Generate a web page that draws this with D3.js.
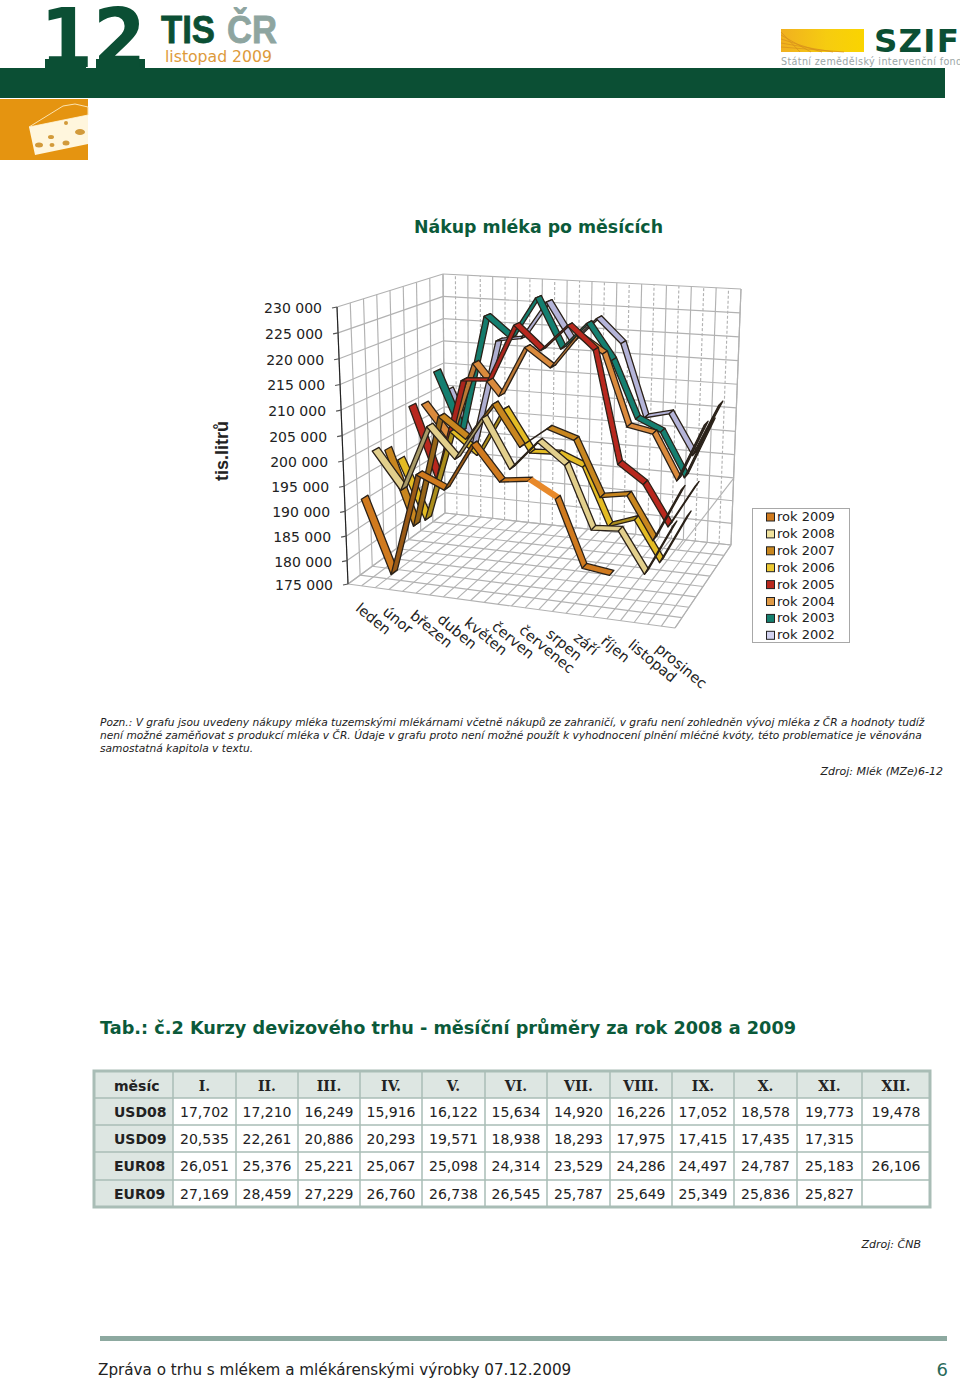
<!DOCTYPE html>
<html lang="cs"><head><meta charset="utf-8"><title>Nákup mléka po měsících</title>
<script src="https://cdn.jsdelivr.net/npm/d3@7/dist/d3.min.js"></script>
<style>html,body{margin:0;padding:0;background:#fff}svg{display:block}text{font-family:"DejaVu Sans",sans-serif}</style>
</head><body><div id="c"></div>
<script>
const months=["leden","únor","březen","duben","květen","červen","červenec","srpen","září","říjen","listopad","prosinec"];
const yTicks=[175000,180000,185000,190000,195000,200000,205000,210000,215000,220000,225000,230000];
const seriesNames=["rok 2009","rok 2008","rok 2007","rok 2006","rok 2005","rok 2004","rok 2003","rok 2002"];
const seriesColors=["#d07a1e","#e2cf8c","#c8861e","#e3bb24","#b8281e","#da8a3c","#157f70","#b4b4d8"];
const swatchColors=["#d07a1e","#f0e29e","#c8861e","#ecc832","#b8281e","#e09a46","#15806f","#d2d2f0"];
const rok2009=[192400,177800,198400,196000,205300,198700,199400,196500,183900,183200];
const rok2008=[200600,193250,206500,200600,209100,199700,205500,201500,189600,190000,182200,192200];
const rok2007=[199400,184300,207200,203200,210600,202600,206700,205000,194300,195200,187000,197400];
const rok2006=[195900,183800,202800,198500,208300,200000,200300,198200,186800,188700,180700,190700];
const rok2005=[205700,190800,212000,212400,224200,219400,224800,220200,197700,194100,186100,194900];
const rok2004=[204800,197800,214400,207900,218500,214700,221700,218300,203800,202800,193700,205500];
const rok2003=[210500,197800,223300,218900,227800,217400,223100,215700,203900,201600,192600,204600];
const rok2002=[205100,192800,216800,217700,225900,217500,223000,218000,202600,203900,195500,206600];
const seriesValues=[rok2009,rok2008,rok2007,rok2006,rok2005,rok2004,rok2003,rok2002];
const darkenRising=[.85,.85,.8,.8,.2,.4,.1,.1];
const tableHead=["měsíc","I.","II.","III.","IV.","V.","VI.","VII.","VIII.","IX.","X.","XI.","XII."];
const tableRows=[
["USD08","17,702","17,210","16,249","15,916","16,122","15,634","14,920","16,226","17,052","18,578","19,773","19,478"],
["USD09","20,535","22,261","20,886","20,293","19,571","18,938","18,293","17,975","17,415","17,435","17,315",""],
["EUR08","26,051","25,376","25,221","25,067","25,098","24,314","23,529","24,286","24,497","24,787","25,183","26,106"],
["EUR09","27,169","28,459","27,229","26,760","26,738","26,545","25,787","25,649","25,349","25,836","25,827",""]];
const noteLines=["Pozn.: V grafu jsou uvedeny nákupy mléka tuzemskými mlékárnami včetně nákupů ze zahraničí, v grafu není zohledněn vývoj mléka z ČR a hodnoty tudíž",
"není možné zaměňovat s produkcí mléka v ČR. Údaje v grafu proto není možné použít k vyhodnocení plnění mléčné kvóty, této problematice je věnována",
"samostatná kapitola v textu."];

const green="#0b4f34";
const svg=d3.select("#c").append("svg").attr("width",960).attr("height",1379).attr("viewBox","0 0 960 1379");
const txt=(x,y,s,size,opt={})=>{const t=svg.append("text").attr("x",x).attr("y",y).text(s).attr("font-size",size).attr("fill",opt.fill||"#222");
 if(opt.bold)t.attr("font-weight","bold");if(opt.italic)t.attr("font-style","italic");if(opt.anchor)t.attr("text-anchor",opt.anchor);
 if(opt.family)t.style("font-family",opt.family);if(opt.ls)t.attr("letter-spacing",opt.ls);if(opt.len)t.attr("textLength",opt.len).attr("lengthAdjust","spacingAndGlyphs");return t;};

/* ---- header ---- */
svg.append("rect").attr("x",0).attr("y",68).attr("width",945).attr("height",30).attr("fill",green);
svg.append("rect").attr("x",45).attr("y",59).attr("width",41).attr("height",10).attr("fill",green);
svg.append("rect").attr("x",96).attr("y",59).attr("width",49).attr("height",10).attr("fill",green);
txt(40,67,"12",82,{bold:1,fill:green,len:106});
txt(161,43,"TIS",39,{bold:1,fill:green,family:"'Liberation Sans'",len:54}).attr("stroke",green).attr("stroke-width",.8);
txt(227,43,"ČR",39,{bold:1,fill:"#8ea5a0",family:"'Liberation Sans'",len:50}).attr("stroke","#8ea5a0").attr("stroke-width",.8);
txt(165,62,"listopad 2009",16.5,{fill:"#dd9a3a",len:107});
svg.append("rect").attr("x",0).attr("y",99).attr("width",88).attr("height",61).attr("fill","#e59410");
svg.append("path").attr("d","M29 127 L63 106 L75 104 L88 107 L88 115 L29 127Z").attr("fill","#e59410").attr("stroke","#fbe3b0").attr("stroke-width",1);
svg.append("path").attr("d","M29 127 L88 115 L88 144 L35 155Z").attr("fill","#fff6dd");
[[80,132,5,3],[51,137,3,2],[39,145,4,2.5],[52,145,2.5,2],[66,143,3.5,2.5],[66,123,2,2]].forEach(h=>svg.append("ellipse").attr("cx",h[0]).attr("cy",h[1]).attr("rx",h[2]).attr("ry",h[3]).attr("fill","#d29a3a"));
const logoDefs=svg.append("defs").append("linearGradient").attr("id","sun").attr("x1",0).attr("x2",1);
logoDefs.append("stop").attr("offset",0).attr("stop-color","#f0b020");logoDefs.append("stop").attr("offset",.55).attr("stop-color","#f6cc10");logoDefs.append("stop").attr("offset",1).attr("stop-color","#fad400");
svg.append("rect").attr("x",781).attr("y",29).attr("width",83).attr("height",23).attr("fill","url(#sun)");
[35,38,42,46,50].forEach((y,i)=>svg.append("line").attr("x1",781).attr("y1",y-3).attr("x2",800+i*11).attr("y2",52).attr("stroke","#d8901c").attr("stroke-width",1).attr("opacity",.7));
txt(874,52,"SZIF",32.5,{bold:1,fill:green,ls:1.2});
txt(781,65,"Státní zemědělský intervenční fond",9.6,{fill:"#9aa6a6",ls:.35});

/* ---- chart title ---- */
txt(414,233,"Nákup mléka po měsících",18,{bold:1,fill:"#0b5a3a",len:249});
txt(228,451,"tis.litrů",18,{bold:1,family:"'Liberation Sans'",anchor:"middle"}).attr("transform","rotate(-90 228 451)");

/* ---- 3D box: corners of the plot cube on the page, projected trilinearly ---- */
const corner={flb:[348,584],flt:[337,307],blb:[445,513],blt:[443,274],frb:[675,628],frt:[685,330],brb:[731,545],brt:[741,289]};
const lerp=(a,b,t)=>[a[0]+(b[0]-a[0])*t,a[1]+(b[1]-a[1])*t];
function project(u,v,w){
 const fb=lerp(corner.flb,corner.frb,u),ft=lerp(corner.flt,corner.frt,u),bb=lerp(corner.blb,corner.brb,u),bt=lerp(corner.blt,corner.brt,u);
 return lerp(lerp(fb,ft,v),lerp(bb,bt,v),w);
}
const xS=d3.scalePoint().domain(months).range([0,1]).padding(.5);
const yBase=175000;
const yP=d3.scalePow().exponent(1.03).domain([0,55000]).range([0,1]);
const yS=val=>yP(val-yBase);
const zS=d3.scalePoint().domain(seriesNames).range([0,1]).padding(.5);
const nX=24,nZ=8;
const grid=svg.append("g").attr("fill","none").attr("stroke","#b2b2b2").attr("stroke-width",1.15);
const seg=(a,b,dash,col)=>{const l=grid.append("line").attr("x1",a[0]).attr("y1",a[1]).attr("x2",b[0]).attr("y2",b[1]);if(dash)l.attr("stroke-dasharray","3 2");if(col)l.attr("stroke",col);return l;};
yTicks.forEach(t=>{const v=yS(t);
 seg(project(0,v,0),project(0,v,1));
 seg(project(0,v,1),project(1,v,1));
});
d3.range(0,nX+1).forEach(i=>{const u=i/nX;
 seg(project(u,0,1),project(u,1,1),i%2===1);
 seg(project(u,0,0),project(u,0,1));
});
d3.range(0,nZ+1).forEach(i=>{const w=i/nZ;
 seg(project(0,0,w),project(0,1,w));
 seg(project(0,0,w),project(1,0,w));
});
seg(project(1,.26,0),project(1,.26,1));
seg(project(1,0,1),project(1,1,1));
seg(project(1,0,0),project(1,0,1));
seg(project(0,0,0),project(0,1,0),false,"#222");
/* axis ticks and labels */
yTicks.forEach(t=>{const p=project(0,yS(t),0);
 seg([p[0]-5,p[1]+1],p,false,"#555");
 txt(p[0]-15,p[1]+6,d3.format(",")(t).replace(/,/g," "),14,{anchor:"end"});
});
months.forEach(m=>{const p=project(xS(m),0,0);const x=p[0]-7,y=p[1]+24;
 txt(x,y,m,14.5).attr("transform",`rotate(39.5 ${x} ${y})`);
});

/* ---- ribbons, back series first ---- */
const hw=.034;
const ribbons=svg.append("g");
d3.range(7,-1,-1).forEach(k=>{
 const name=seriesNames[k],vals=seriesValues[k],w=zS(name);
 const pts=vals.map((val,i)=>({f:project(xS(months[i]),yS(val),w-hw),b:project(xS(months[i]),yS(val),w+hw),val}));
 const gs=ribbons.append("g").attr("data-series",name);
 d3.pairs(pts).forEach(([a,b],i)=>{
  const rising=b.val-a.val>1500;
  const edgeOn=i===10;
  const fill=edgeOn?"#2c2a28":rising?d3.color(seriesColors[k]).darker(darkenRising[k]).formatHex():seriesColors[k];
  const soft=k===0&&i===6;
  gs.append("path").attr("d",d3.line()([a.f,b.f,b.b,a.b])+"Z")
   .attr("fill",soft?"#e8892a":fill).attr("stroke",soft?"none":"#2a2118").attr("stroke-width",1.3).attr("stroke-linejoin","round");
 });
});

/* ---- legend ---- */
svg.append("rect").attr("x",752.5).attr("y",508.5).attr("width",97).attr("height",134).attr("fill","#fff").attr("stroke","#a8a8a8");
seriesNames.forEach((s,i)=>{const y=516.5+i*16.9;
 svg.append("rect").attr("x",766.5).attr("y",y-3.5).attr("width",8).attr("height",8).attr("fill",swatchColors[i]).attr("stroke","#222");
 txt(777,y+4.5,s,13);
});

/* ---- note ---- */
noteLines.forEach((l,i)=>txt(100,726+i*13,l,10.66,{italic:1}));
txt(943,775,"Zdroj: Mlék (MZe)6-12",11,{italic:1,anchor:"end"});

/* ---- table ---- */
txt(100,1034,"Tab.: č.2 Kurzy devizového trhu - měsíční průměry za rok 2008 a 2009",18,{bold:1,fill:"#0b5a3a",len:696});
const colEdges=[94,173,236,298,360,422,485,547,610,672,734,797,862,930];
const rowEdges=[1071,1098,1125,1152,1180,1207];
const tb=svg.append("g");
tb.append("rect").attr("x",94).attr("y",1071).attr("width",836).attr("height",136).attr("fill","#fff");
tb.append("rect").attr("x",94).attr("y",1071).attr("width",836).attr("height",27).attr("fill","#dde6e2");
tb.append("rect").attr("x",94).attr("y",1071).attr("width",79).attr("height",136).attr("fill","#dde6e2");
colEdges.slice(1,-1).forEach(x=>tb.append("line").attr("x1",x).attr("x2",x).attr("y1",1071).attr("y2",1207).attr("stroke","#a9bdb6").attr("stroke-width",1.5));
rowEdges.slice(1,-1).forEach(y=>tb.append("line").attr("x1",94).attr("x2",930).attr("y1",y).attr("y2",y).attr("stroke","#a9bdb6").attr("stroke-width",1.5));
tb.append("rect").attr("x",94).attr("y",1071).attr("width",836).attr("height",136).attr("fill","none").attr("stroke","#a9bdb6").attr("stroke-width",3);
const cx=j=>(colEdges[j]+colEdges[j+1])/2;
tableHead.forEach((h,j)=>{ if(j===0) txt(114,1091,h,14,{bold:1}); else txt(cx(j),1091,h,14,{bold:1,anchor:"middle",family:"'DejaVu Serif'"});});
tableRows.forEach((r,i)=>r.forEach((c,j)=>{const y=rowEdges[i+1]+19;
 if(j===0) txt(114,y,c,14,{bold:1}); else if(c) txt(cx(j),y,c,14,{anchor:"middle"});
}));
txt(921,1248,"Zdroj: ČNB",11,{italic:1,anchor:"end"});

/* ---- footer ---- */
svg.append("rect").attr("x",100).attr("y",1336).attr("width",847).attr("height",5).attr("fill","#8da9a0");
txt(98,1375,"Zpráva o trhu s mlékem a mlékárenskými výrobky 07.12.2009",15.2);
txt(948,1376,"6",18,{anchor:"end",fill:"#2a6a5a"});
</script></body></html>
